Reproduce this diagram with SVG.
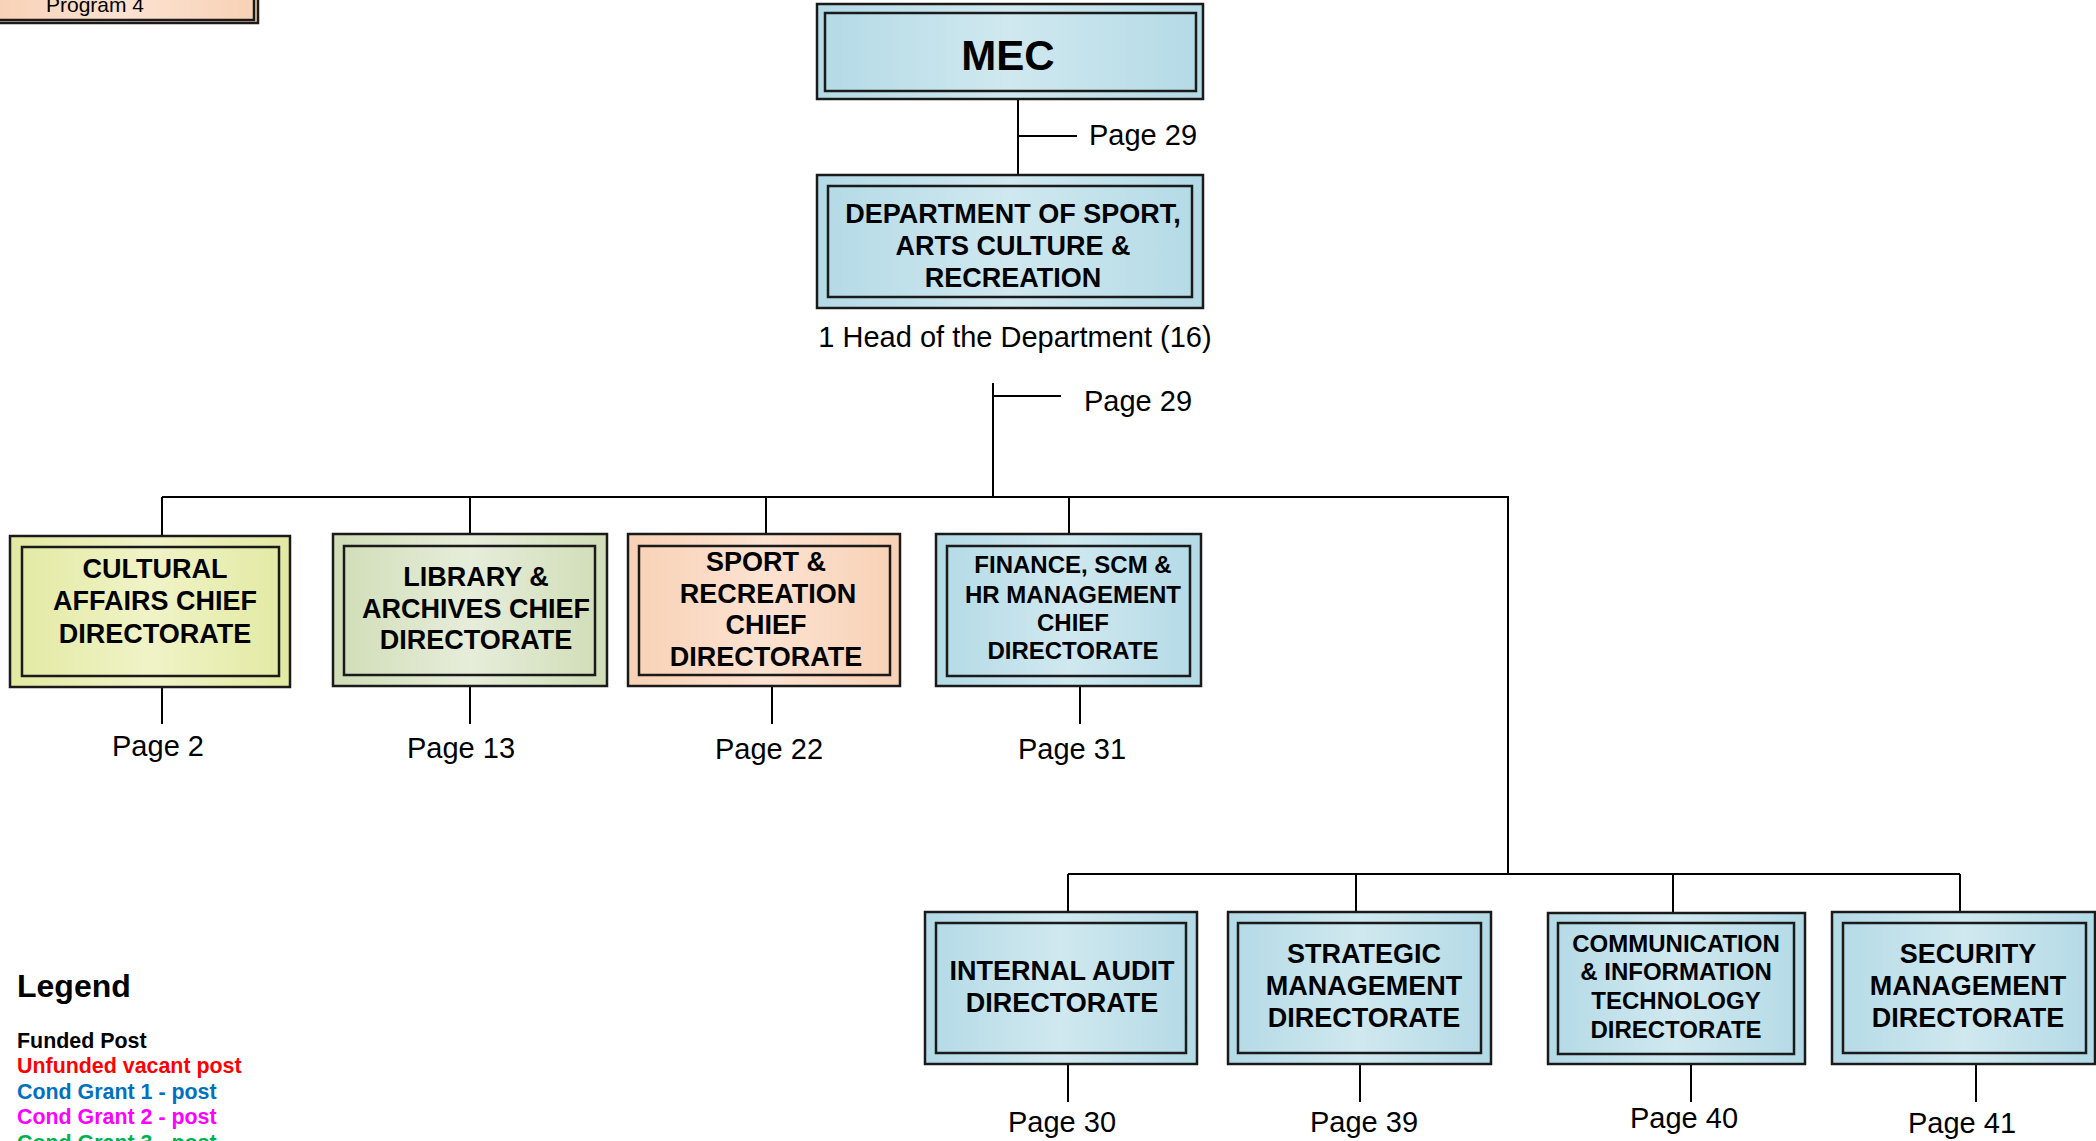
<svg xmlns="http://www.w3.org/2000/svg" width="2096" height="1141" viewBox="0 0 2096 1141">
<defs>
<linearGradient id="gBlue" x1="0" y1="0" x2="1" y2="0">
<stop offset="0" stop-color="#B3DAE6"/><stop offset="0.5" stop-color="#D0E8EF"/><stop offset="1" stop-color="#B3DAE6"/>
</linearGradient>
<linearGradient id="gYellow" x1="0" y1="0" x2="1" y2="0">
<stop offset="0" stop-color="#E2E9A1"/><stop offset="0.5" stop-color="#F0F3C7"/><stop offset="1" stop-color="#E2E9A1"/>
</linearGradient>
<linearGradient id="gGreen" x1="0" y1="0" x2="1" y2="0">
<stop offset="0" stop-color="#D0DDB6"/><stop offset="0.5" stop-color="#E6EDDA"/><stop offset="1" stop-color="#D0DDB6"/>
</linearGradient>
<linearGradient id="gPeach" x1="0" y1="0" x2="1" y2="0">
<stop offset="0" stop-color="#F8D1B5"/><stop offset="0.5" stop-color="#FCE2D1"/><stop offset="1" stop-color="#F8D1B5"/>
</linearGradient>
</defs>
<style>
.outer{stroke:#1a1a1a;stroke-width:2.5}
.inner{fill:none;stroke:#1a1a1a;stroke-width:2.5}
.t{font-family:"Liberation Sans",Arial,sans-serif;font-weight:bold;font-size:27px;fill:#000;text-anchor:middle}
.ts{font-family:"Liberation Sans",Arial,sans-serif;font-weight:bold;font-size:24px;fill:#000;text-anchor:middle}
.pg{font-family:"Liberation Sans",Arial,sans-serif;font-size:29px;fill:#000}
.pc{text-anchor:middle}
.lg{font-family:"Liberation Sans",Arial,sans-serif;font-weight:bold;font-size:21.4px}
#connectors path{fill:none;stroke:#000;stroke-width:2}
</style>

<g id="program4">
<rect class="outer" x="-10" y="-40" width="268" height="63" fill="url(#gPeach)"/>
<rect class="inner" x="-5" y="-40" width="259" height="60"/>
<text x="95" y="12" class="pg pc" style="font-size:21px">Program 4</text>
</g>

<g id="connectors">
<path d="M1018 99 V175 M1018 136 H1077"/>
<path d="M993 383 V497 M993 396 H1061"/>
<path d="M162 497 H1508 V874"/>
<path d="M162 497 V536 M470 497 V534 M766 497 V534 M1069 497 V534"/>
<path d="M1068 874 H1960 M1068 874 V912 M1356 874 V912 M1673 874 V913 M1960 874 V912"/>
<path d="M162 687 V724 M470 686 V724 M772 686 V724 M1080 686 V724"/>
<path d="M1068 1064 V1102 M1360 1064 V1102 M1691 1064 V1102 M1976 1064 V1102"/>
</g>

<g id="mec">
<rect class="outer" x="817" y="4" width="386" height="95" fill="url(#gBlue)"/>
<rect class="inner" x="825" y="13" width="371" height="78"/>
<text x="1008" y="70" class="t" style="font-size:42px">MEC</text>
</g>
<text x="1089" y="145" class="pg">Page 29</text>

<g id="department">
<rect class="outer" x="817" y="175" width="386" height="133" fill="url(#gBlue)"/>
<rect class="inner" x="828" y="186" width="364" height="111"/>
<text class="t" x="1013" y="223">DEPARTMENT OF SPORT,</text>
<text class="t" x="1013" y="255">ARTS CULTURE &amp;</text>
<text class="t" x="1013" y="287">RECREATION</text>
</g>
<text x="1015" y="347" class="pg pc">1 Head of the Department (16)</text>
<text x="1084" y="411" class="pg">Page 29</text>

<g id="cultural">
<rect class="outer" x="10" y="536" width="280" height="151" fill="url(#gYellow)"/>
<rect class="inner" x="22" y="547" width="257" height="129"/>
<text class="t" x="155" y="578">CULTURAL</text>
<text class="t" x="155" y="610">AFFAIRS CHIEF</text>
<text class="t" x="155" y="643">DIRECTORATE</text>
</g>
<text x="158" y="756" class="pg pc">Page 2</text>

<g id="library">
<rect class="outer" x="333" y="534" width="274" height="152" fill="url(#gGreen)"/>
<rect class="inner" x="344" y="546" width="251" height="129"/>
<text class="t" x="476" y="586">LIBRARY &amp;</text>
<text class="t" x="476" y="618">ARCHIVES CHIEF</text>
<text class="t" x="476" y="649">DIRECTORATE</text>
</g>
<text x="461" y="758" class="pg pc">Page 13</text>

<g id="sport">
<rect class="outer" x="628" y="534" width="272" height="152" fill="url(#gPeach)"/>
<rect class="inner" x="639" y="546" width="251" height="129"/>
<text class="t" x="766" y="571">SPORT &amp;</text>
<text class="t" x="768" y="603">RECREATION</text>
<text class="t" x="766" y="634">CHIEF</text>
<text class="t" x="766" y="666">DIRECTORATE</text>
</g>
<text x="769" y="759" class="pg pc">Page 22</text>

<g id="finance">
<rect class="outer" x="936" y="534" width="265" height="152" fill="url(#gBlue)"/>
<rect class="inner" x="947" y="546" width="243" height="130"/>
<text class="ts" x="1073" y="573">FINANCE, SCM &amp;</text>
<text class="ts" x="1073" y="603">HR MANAGEMENT</text>
<text class="ts" x="1073" y="631">CHIEF</text>
<text class="ts" x="1073" y="659">DIRECTORATE</text>
</g>
<text x="1072" y="759" class="pg pc">Page 31</text>

<g id="internal-audit">
<rect class="outer" x="925" y="912" width="272" height="152" fill="url(#gBlue)"/>
<rect class="inner" x="936" y="923" width="250" height="130"/>
<text class="t" x="1062" y="980">INTERNAL AUDIT</text>
<text class="t" x="1062" y="1012">DIRECTORATE</text>
</g>
<text x="1062" y="1132" class="pg pc">Page 30</text>

<g id="strategic">
<rect class="outer" x="1228" y="912" width="263" height="152" fill="url(#gBlue)"/>
<rect class="inner" x="1238" y="923" width="243" height="130"/>
<text class="t" x="1364" y="963">STRATEGIC</text>
<text class="t" x="1364" y="995">MANAGEMENT</text>
<text class="t" x="1364" y="1027">DIRECTORATE</text>
</g>
<text x="1364" y="1132" class="pg pc">Page 39</text>

<g id="communication">
<rect class="outer" x="1548" y="913" width="257" height="151" fill="url(#gBlue)"/>
<rect class="inner" x="1558" y="923" width="236" height="131"/>
<text class="ts" x="1676" y="952">COMMUNICATION</text>
<text class="ts" x="1676" y="980">&amp; INFORMATION</text>
<text class="ts" x="1676" y="1009">TECHNOLOGY</text>
<text class="ts" x="1676" y="1038">DIRECTORATE</text>
</g>
<text x="1684" y="1128" class="pg pc">Page 40</text>

<g id="security">
<rect class="outer" x="1832" y="912" width="263" height="152" fill="url(#gBlue)"/>
<rect class="inner" x="1843" y="923" width="243" height="130"/>
<text class="t" x="1968" y="963">SECURITY</text>
<text class="t" x="1968" y="995">MANAGEMENT</text>
<text class="t" x="1968" y="1027">DIRECTORATE</text>
</g>
<text x="1962" y="1133" class="pg pc">Page 41</text>

<g id="legend">
<text x="17" y="997" style="font-family:'Liberation Sans',Arial,sans-serif;font-weight:bold;font-size:32px" fill="#000">Legend</text>
<text x="17" y="1048" class="lg" fill="#000000">Funded Post</text>
<text x="17" y="1073" class="lg" fill="#FF0000">Unfunded vacant post</text>
<text x="17" y="1099" class="lg" fill="#0070C0">Cond Grant 1 - post</text>
<text x="17" y="1124" class="lg" fill="#FF00FF">Cond Grant 2 - post</text>
<text x="17" y="1150" class="lg" fill="#00B050">Cond Grant 3 - post</text>
</g>
</svg>
